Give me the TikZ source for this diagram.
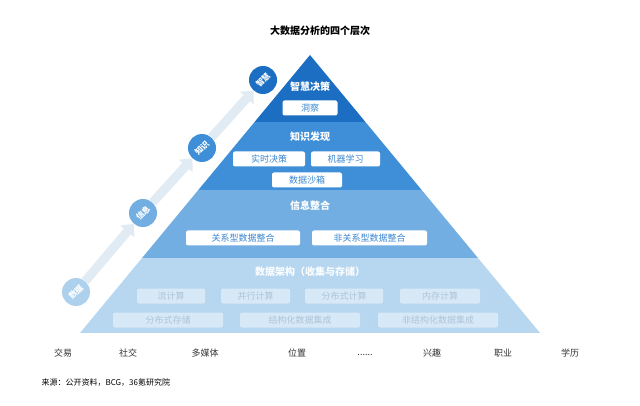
\documentclass[tikz,border=0pt]{standalone}
\usepackage{fontspec}
\setmainfont{Noto Sans CJK SC}
\usetikzlibrary{arrows.meta}
\definecolor{c1}{HTML}{1B6EC2}
\definecolor{c2}{HTML}{3F8FD8}
\definecolor{c3}{HTML}{72AEE2}
\definecolor{c4}{HTML}{B7D6EF}
\definecolor{tb}{HTML}{3A86D0}
\definecolor{arr}{HTML}{E1EBF4}
\begin{document}
\begin{tikzpicture}[x=1pt,y=-1pt,
  hd/.style={text=white,font=\bfseries\fontsize{10}{12}\selectfont},
  bx/.style={fill=white,rounded corners=2pt,minimum height=15pt,inner sep=0pt,text=tb,font=\fontsize{9}{11}\selectfont},
  lbx/.style={fill=white,fill opacity=0.45,text opacity=1,rounded corners=2pt,minimum height=15pt,inner sep=0pt,text=c4!80!gray,font=\fontsize{9}{11}\selectfont},
  circ/.style={circle,minimum size=28pt,inner sep=0pt,text=white,font=\bfseries\fontsize{8}{9}\selectfont},
  bl/.style={font=\fontsize{9}{11}\selectfont,text=black!80},
  ar/.style={line width=9pt,draw=arr,-{Triangle[length=10pt,width=18pt]}}]
\useasboundingbox (0,0) rectangle (640,406);
\fill[white] (0,0) rectangle (640,406);
% layers
\begin{scope}
\clip (80,333) -- (540,333) -- (310,55) -- cycle;
\fill[c4] (0,258) rectangle (640,333);
\fill[c3] (0,190) rectangle (640,258);
\fill[c2] (0,122) rectangle (640,190);
\fill[c1] (0,40) rectangle (640,122);
\end{scope}
% texts
\node[font=\bfseries\fontsize{10}{12}\selectfont] (title) at (320,31) {大数据分析的四个层次};
\node[hd] (t1) at (310,87) {智慧决策};
\node[bx,minimum width=55pt] (b11) at (310,108) {洞察};
\node[hd] (t2) at (310,137) {知识发现};
\node[bx,minimum width=72pt] (b21) at (269,159) {实时决策};
\node[bx,minimum width=69pt] (b22) at (345.5,159) {机器学习};
\node[bx,minimum width=70pt] (b23) at (307,180) {数据沙箱};
\node[hd] (t3) at (310,206) {信息整合};
\node[bx,minimum width=114pt] (b31) at (243,238) {关系型数据整合};
\node[bx,minimum width=115pt] (b32) at (369.5,238) {非关系型数据整合};
\node[hd,text=white!95!c4] (t4) at (310,272) {数据架构（收集与存储）};
\node[lbx,minimum width=68pt] (b41) at (171,296) {流计算};
\node[lbx,minimum width=69pt] (b42) at (255.5,296) {并行计算};
\node[lbx,minimum width=78pt] (b43) at (344,296) {分布式计算};
\node[lbx,minimum width=80pt] (b44) at (440,296) {内存计算};
\node[lbx,minimum width=110pt] (b51) at (168,320) {分布式存储};
\node[lbx,minimum width=120pt] (b52) at (300,320) {结构化数据集成};
\node[lbx,minimum width=120pt] (b53) at (438,320) {非结构化数据集成};
% circles and arrows
\node[circ,fill=c4!85!c3] (k1) at (76,292) {\rotatebox{45}{数据}};
\node[circ,fill=c3] (k2) at (143,213) {\rotatebox{45}{信息}};
\node[circ,fill=c2] (k3) at (202,148) {\rotatebox{45}{知识}};
\node[circ,fill=c1] (k4) at (263,80) {\rotatebox{45}{智慧}};
\draw[ar] (k1) -- (k2);
\draw[ar] (k2) -- (k3);
\draw[ar] (k3) -- (k4);
% bottom labels
\node[bl] (l1) at (63,353) {交易};
\node[bl] (l2) at (128,353) {社交};
\node[bl] (l3) at (205,353) {多媒体};
\node[bl] (l4) at (297,353) {位置};
\node[bl] (l5) at (365,355) {......};
\node[bl] (l6) at (432,353) {兴趣};
\node[bl] (l7) at (503,353) {职业};
\node[bl] (l8) at (570,353) {学历};
\node[font=\fontsize{8}{10}\selectfont,anchor=west] (src) at (38,383) {来源：公开资料，BCG，36氪研究院};
\end{tikzpicture}
\end{document}
